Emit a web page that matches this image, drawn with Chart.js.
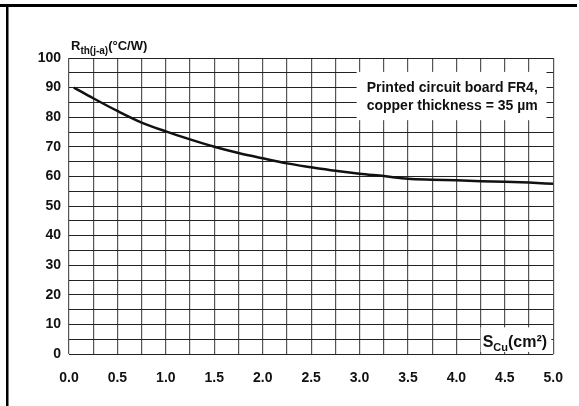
<!DOCTYPE html>
<html>
<head>
<meta charset="utf-8">
<script src="https://cdn.jsdelivr.net/npm/chart.js@4/dist/chart.umd.min.js"></script>
<style>
  html, body { margin: 0; padding: 0; background: #fff; }
  #wrap { width: 579px; height: 406px; }
</style>
</head>
<body>
<div id="wrap"><canvas id="canvas" width="579" height="406"></canvas></div>
<script>
// copper area (cm²) and thermal resistance junction-ambient (°C/W)
var sCu = [0.05, 0.25, 0.5, 0.75, 1.0, 1.25, 1.5, 1.75, 2.0, 2.25, 2.5, 2.75, 3.0, 3.25, 3.5, 3.75, 4.0, 4.25, 4.5, 4.75, 5.0];
var rth = [90, 86.4, 82.1, 78.2, 75.2, 72.5, 70, 67.9, 66.1, 64.4, 63.1, 61.9, 60.9, 60.1, 59.2, 58.9, 58.7, 58.4, 58.2, 57.9, 57.5];

var noteLines = ['Printed circuit board FR4,', 'copper thickness = 35 µm'];
var FONT = '"Liberation Sans", Arial, sans-serif';

var decor = {
    id: 'decor',
    afterDraw: function(chart) {
        var c = chart.ctx, xs = chart.scales.x, ys = chart.scales.y;
        c.save();
        // page frame
        c.fillStyle = '#000';
        c.fillRect(0, 4, 577, 3);
        c.fillRect(6, 4, 2.5, 402);

        // note box
        var bx = xs.getPixelForValue(2.97), bx2 = xs.getPixelForValue(4.93);
        var by = ys.getPixelForValue(95.3), by2 = ys.getPixelForValue(79);
        c.fillStyle = '#fff';
        c.fillRect(bx, by, bx2 - bx, by2 - by);
        c.fillStyle = '#111';
        c.font = 'bold 14px ' + FONT;
        c.textBaseline = 'middle';
        c.textAlign = 'left';
        c.fillText(noteLines[0], bx + 10, ys.getPixelForValue(89.8));
        c.fillText(noteLines[1], bx + 10, ys.getPixelForValue(83.8));

        // y title R th(j-a) (°C/W)
        c.textBaseline = 'alphabetic';
        var x0 = chart.chartArea.left + 2, yb = 50;
        c.font = 'bold 13px ' + FONT;
        c.fillText('R', x0, yb);
        x0 += c.measureText('R').width;
        c.font = 'bold 10px ' + FONT;
        c.fillText('th(j-a)', x0, yb + 4);
        x0 += c.measureText('th(j-a)').width;
        c.font = 'bold 13px ' + FONT;
        c.fillText('(°C/W)', x0, yb);

        // x title S Cu (cm²)
        var sx = xs.getPixelForValue(4.25), sx2 = xs.getPixelForValue(4.98);
        var sy = ys.getPixelForValue(9), sy2 = ys.getPixelForValue(0.7);
        c.fillStyle = '#fff';
        c.fillRect(sx, sy, sx2 - sx, sy2 - sy);
        c.fillStyle = '#111';
        var tx = sx + 2, tb = ys.getPixelForValue(2.4);
        c.font = 'bold 16px ' + FONT;
        c.fillText('S', tx, tb);
        tx += c.measureText('S').width;
        c.font = 'bold 11px ' + FONT;
        c.fillText('Cu', tx, tb + 4);
        tx += c.measureText('Cu').width;
        c.font = 'bold 16px ' + FONT;
        c.fillText('(cm²)', tx, tb);
        c.restore();
    }
};

try {
    var ctx = document.getElementById('canvas').getContext('2d');
    var points = sCu.map(function(v, i) { return {x: v, y: rth[i]}; });

    var myChart = new Chart(ctx, {
        type: 'line',
        data: {
            datasets: [{
                data: points,
                borderColor: '#111',
                borderWidth: 2.5,
                pointRadius: 0,
                fill: false,
                cubicInterpolationMode: 'monotone'
            }]
        },
        options: {
            responsive: false,
            animation: false,
            devicePixelRatio: 1,
            layout: { padding: { left: 8, right: 24, top: 58, bottom: 12 } },
            plugins: { legend: { display: false }, tooltip: { enabled: false } },
            scales: {
                x: {
                    type: 'linear',
                    min: 0, max: 5,
                    afterFit: function(s) { s.height = 40; },
                    border: { display: false },
                    grid: { color: '#555', lineWidth: 1.2, drawTicks: false },
                    ticks: {
                        stepSize: 0.25, autoSkip: false, maxRotation: 0, padding: 16,
                        color: '#111', font: { family: FONT, size: 14, weight: 'bold' },
                        callback: function(v) { return Math.abs(v * 2 - Math.round(v * 2)) < 1e-6 ? v.toFixed(1) : ''; }
                    }
                },
                y: {
                    min: 0, max: 100,
                    afterFit: function(s) { s.width = 61; },
                    border: { display: false },
                    grid: { color: '#222', lineWidth: 1, drawTicks: false },
                    ticks: {
                        stepSize: 5, autoSkip: false, padding: 8,
                        color: '#111', font: { family: FONT, size: 14, weight: 'bold' },
                        callback: function(v) { return v % 10 === 0 ? v : ''; }
                    }
                }
            }
        },
        plugins: [decor]
    });
} catch(e) {
    console.log(e.message);
}
</script>
</body>
</html>
